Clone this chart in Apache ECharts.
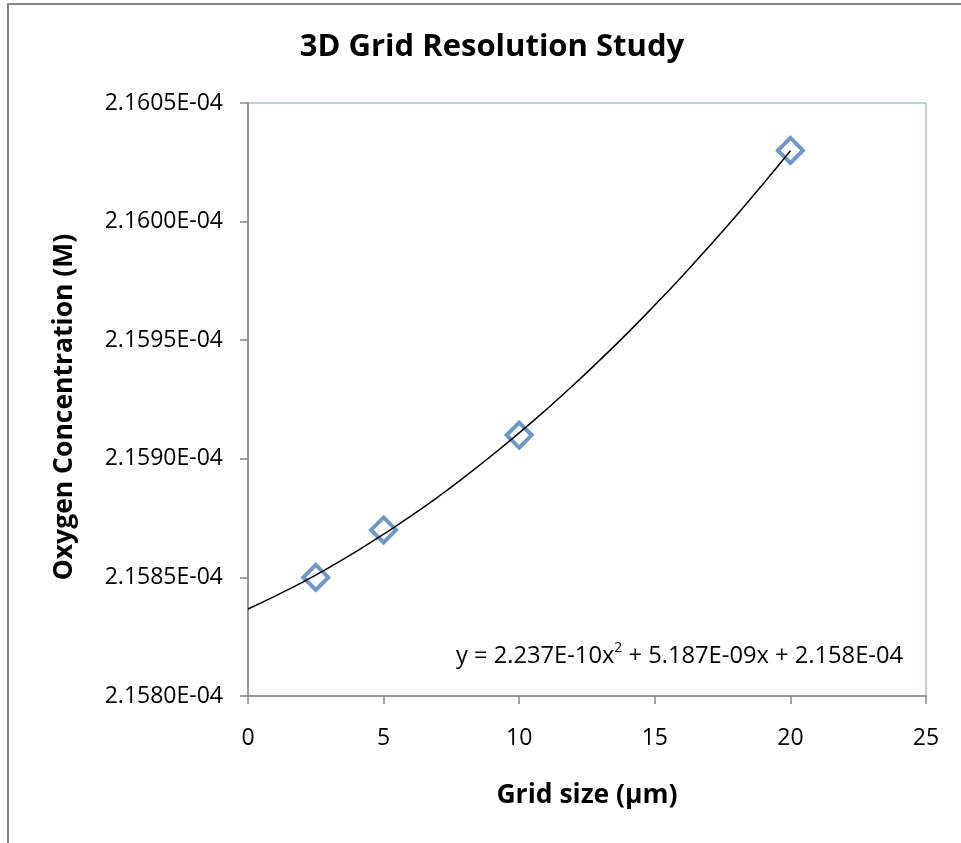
<!DOCTYPE html>
<html>
<head>
<meta charset="utf-8">
<script src="https://cdn.jsdelivr.net/npm/echarts@6/dist/echarts.min.js"></script>
<style>
  html, body { margin: 0; padding: 0; background: #fff; }
  #chart { width: 961px; height: 843px; }
</style>
</head>
<body>
<div id="chart"></div>
<script>
// measured points
const gridSize = [2.5, 5, 10, 20]
const oxygenConc = [2.1585e-4, 2.1587e-4, 2.1591e-4, 2.1603e-4]

// polynomial trendline at each whole micron
const trendX = [0, 1, 2, 3, 4, 5, 6, 7, 8, 9, 10, 11, 12, 13, 14, 15, 16, 17, 18, 19, 20]
const trendY = [
  2.158367e-4, 2.158421e-4, 2.158479e-4, 2.158542e-4, 2.158610e-4,
  2.158682e-4, 2.158758e-4, 2.158839e-4, 2.158925e-4, 2.159015e-4,
  2.159109e-4, 2.159208e-4, 2.159311e-4, 2.159419e-4, 2.159531e-4,
  2.159648e-4, 2.159769e-4, 2.159895e-4, 2.160025e-4, 2.160160e-4,
  2.160299e-4
]

const yTicks = { min: 2.158e-4, max: 2.1605e-4, step: 5e-8 }
const xTicks = { min: 0, max: 25, step: 5 }

const font = '"Open Sans", "Noto Sans", sans-serif'
const axisGray = '#868686'

const chart = echarts.init(document.getElementById('chart'))

chart.setOption({
  animation: false,
  title: {
    text: '3D Grid Resolution Study',
    left: 487,
    top: 27,
    textAlign: 'center',
    textStyle: { fontSize: 31, fontWeight: 'bold', fontFamily: font, color: '#000' }
  },
  grid: {
    left: 248,
    top: 103,
    right: 35,
    bottom: 147,
    show: true,
    borderColor: '#7b9fd4',
    borderWidth: 1
  },
  xAxis: {
    type: 'value',
    min: xTicks.min,
    max: xTicks.max,
    interval: xTicks.step,
    name: 'Grid size (µm)',
    nameLocation: 'middle',
    nameGap: 86,
    nameTextStyle: { fontSize: 26.5, fontWeight: 'bold', fontFamily: font, color: '#000' },
    axisLine: { show: true, lineStyle: { color: axisGray, width: 1.5 } },
    axisTick: { show: true, length: 8, lineStyle: { color: axisGray, width: 1.5 } },
    axisLabel: { margin: 31, fontSize: 23, fontFamily: font, color: '#000' },
    splitLine: { show: false }
  },
  yAxis: {
    type: 'value',
    min: yTicks.min,
    max: yTicks.max,
    interval: yTicks.step,
    axisLine: { show: true, lineStyle: { color: axisGray, width: 1.5 } },
    axisTick: { show: true, length: 8, lineStyle: { color: axisGray, width: 1.5 } },
    axisLabel: {
      margin: 25,
      fontSize: 23,
      fontFamily: font,
      color: '#000',
      formatter: v => v.toExponential(4).replace(/e([+-])(\d)$/, 'E$10$2')
    },
    splitLine: { show: false }
  },
  graphic: [
    {
      // outer chart frame
      type: 'rect',
      shape: { x: 8, y: 4, width: 2000, height: 2000 },
      style: { fill: 'none', stroke: '#878787', lineWidth: 2 },
      silent: true
    },
    {
      type: 'text',
      x: 64,
      y: 407,
      rotation: Math.PI / 2,
      style: {
        text: 'Oxygen Concentration (M)',
        font: 'bold 26.5px ' + font,
        fill: '#000',
        textAlign: 'center',
        textVerticalAlign: 'middle'
      }
    },
    {
      type: 'text',
      right: 58,
      top: 641,
      style: {
        text: '{a|y = 2.237E-10x}{s|2}{a| + 5.187E-09x + 2.158E-04}',
        rich: {
          a: { fontSize: 23.7, fontFamily: font, fill: '#000', lineHeight: 30 },
          s: { fontSize: 14, fontFamily: font, fill: '#000', verticalAlign: 'top', lineHeight: 30 }
        }
      }
    }
  ],
  series: [
    {
      name: 'Oxygen concentration',
      type: 'scatter',
      data: gridSize.map((x, i) => [x, oxygenConc[i]]),
      symbol: 'diamond',
      symbolSize: 25,
      itemStyle: { color: 'rgba(255,255,255,0)', borderColor: '#4a7ebb', borderWidth: 4 },
      z: 2
    },
    {
      name: 'Poly. trend',
      type: 'line',
      data: trendX.map((x, i) => [x, trendY[i]]),
      smooth: true,
      showSymbol: false,
      symbol: 'none',
      lineStyle: { color: '#000', width: 1.5 },
      z: 3
    }
  ]
})
</script>
</body>
</html>
